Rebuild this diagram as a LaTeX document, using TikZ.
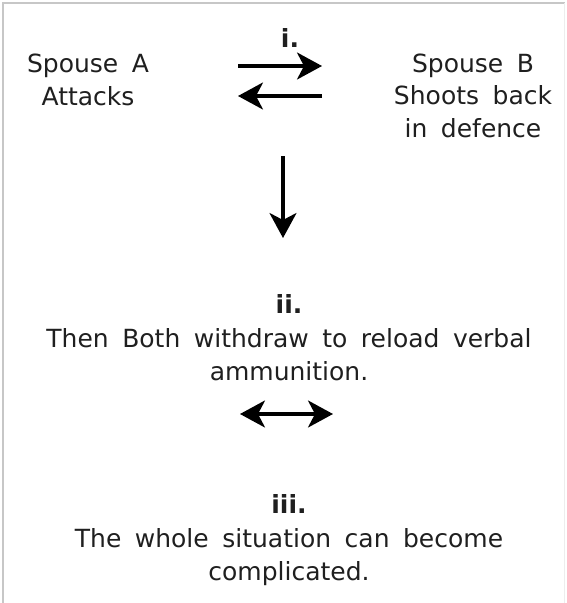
\documentclass[tikz,border=0pt]{standalone}
\usepackage{fontspec}
\setmainfont[WordSpace=1.7]{DejaVu Sans}
\usetikzlibrary{arrows.meta,positioning}
\colorlet{penColor}{black!88}
\colorlet{frameColor}{black!22}
\tikzset{>={Stealth[length=25pt,width=27pt,inset=7pt]}}
% multi-line nodes sit on the baseline of their last line
\tikzset{txt/.style={penColor, align=center, inner sep=0pt, anchor=base,
    font=\fontsize{25}{32.5}\selectfont}}
\tikzset{arr/.style={black, line width=3.2pt}}

\begin{document}
\begin{tikzpicture}[x=1pt,y=-1pt]
\useasboundingbox (0,0) rectangle (566,603);
% frame
\draw[frameColor, line width=2pt] (3,603) -- (3,3) -- (565,3);
\draw[black!7, line width=1pt] (564.5,3) -- (564.5,603);

% step i
\node[txt] (stepA) at (290,47) {\bfseries i.};
\node[txt] (spouseA) at (88,105) {Spouse A\\Attacks};
\node[txt] (spouseB) at (473,137) {Spouse B\\Shoots back\\in defence};
\coordinate (atkL) at (238,66);
\coordinate (atkR) at (322,66);
\coordinate (defL) at (238,96);
\coordinate (defR) at (322,96);
\draw[->,arr] (atkL) -- (atkR);
\draw[->,arr] (defR) -- (defL);

% down to step ii
\coordinate (downT) at (283,156);
\coordinate (downB) at (283,238);
\draw[->,arr] (downT) -- (downB);

% step ii
\node[txt] (stepB) at (289,313) {\bfseries ii.};
\node[txt] (withdraw) at (289,380) {Then Both withdraw to reload verbal\\ammunition.};
\coordinate (bothL) at (240,414);
\coordinate (bothR) at (333,414);
\draw[<->,arr] (bothL) -- (bothR);

% step iii
\node[txt] (stepC) at (289,513) {\bfseries iii.};
\node[txt] (situation) at (289,580) {The whole situation can become\\complicated.};
\end{tikzpicture}
\end{document}
